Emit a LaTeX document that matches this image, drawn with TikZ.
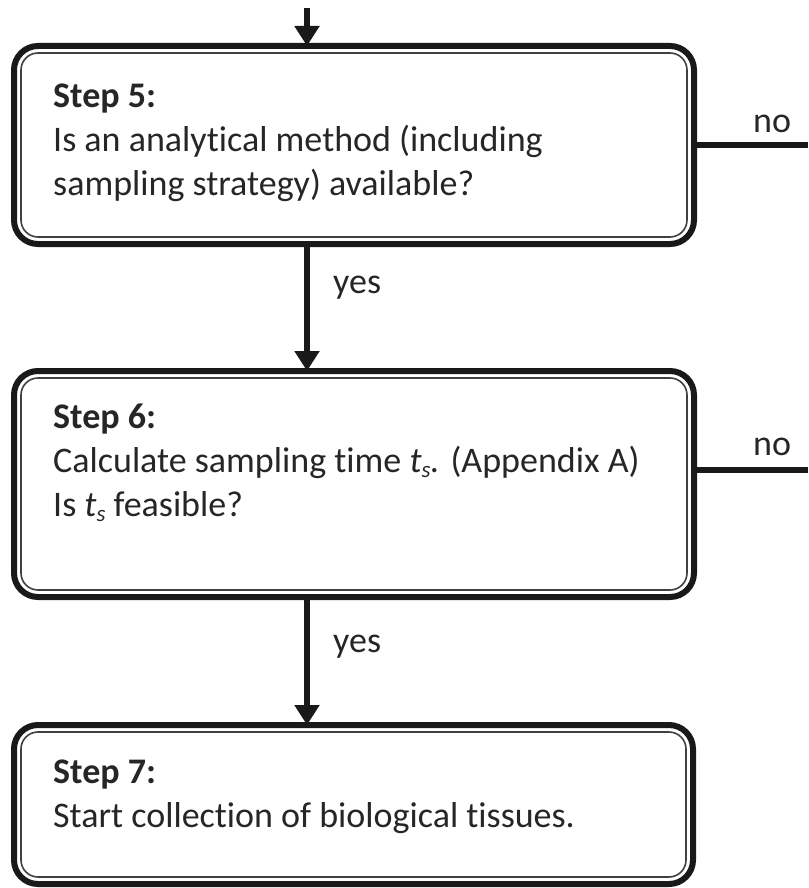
\documentclass[tikz,border=0pt]{standalone}
\usepackage{fontspec}
\setmainfont{Carlito}[Ligatures=NoCommon]
\usetikzlibrary{arrows.meta}
% sampling time symbol t_s, subscript set below the baseline
\newcommand{\samptime}{{\itshape t\raisebox{-0.3ex}{\fontsize{23}{23}\selectfont s}}}
\begin{document}
\begin{tikzpicture}[x=1pt,y=-1pt,
  stepbox/.style={draw=black!90, line width=6pt, rounded corners=24pt, outer sep=0pt, inner sep=0pt},
  inset/.style={draw=black!75, line width=1.6pt, rounded corners=17pt},
  txt/.style={anchor=base west, align=left, inner sep=0pt, text=black!85, font=\fontsize{36}{44}\selectfont},
  flow/.style={draw=black!90, line width=6pt, -{Triangle[length=20pt,width=24pt]}},
  noline/.style={draw=black!90, line width=6pt},
  lbl/.style={anchor=base west, inner sep=0pt, text=black!85, font=\fontsize{36}{44}\selectfont}]
\useasboundingbox (0,0) rectangle (808,888);

% decision and action boxes
\node[stepbox, minimum width=680pt, minimum height=198pt] (b5) at (354,145) {};
\node[stepbox, minimum width=680pt, minimum height=226pt] (b6) at (354,484) {};
\node[stepbox, minimum width=679pt, minimum height=159pt] (b7) at (353.5,804.5) {};

% thin inner rules of the boxes
\foreach \b in {b5,b6,b7}
  \draw[inset] ([xshift=7pt,yshift=-7pt]\b.north west) rectangle ([xshift=-7pt,yshift=7pt]\b.south east);

% box texts (anchored at the baseline of the last line)
\node[txt] (t5) at (53,195) {\textbf{Step 5:}\\Is an analytical method (including\\sampling strategy) available?};
\node[txt] (t6) at (53,516) {\textbf{Step 6:}\\Calculate sampling time \samptime{\itshape .} (Appendix A)\\Is \samptime\ feasible?};
\node[txt] (t7) at (53,827) {\textbf{Step 7:}\\Start collection of biological tissues.};

% flow
\coordinate (in) at (307,8);
\coordinate (n5) at (808,145);
\coordinate (n6) at (808,470);
\draw[flow] (in) -- (b5.north -| in);
\draw[flow] (b5.south -| in) -- (b6.north -| in);
\draw[flow] (b6.south -| in) -- (b7.north -| in);
\draw[noline] (b5.east) -- (n5);
\draw[noline] (b6.east |- n6) -- (n6);

% branch labels
\node[lbl] (y5) at (333,293) {yes};
\node[lbl] (y6) at (333,652) {yes};
\node[lbl] (no5) at (753,132) {no};
\node[lbl] (no6) at (753,455) {no};
\end{tikzpicture}
\end{document}
